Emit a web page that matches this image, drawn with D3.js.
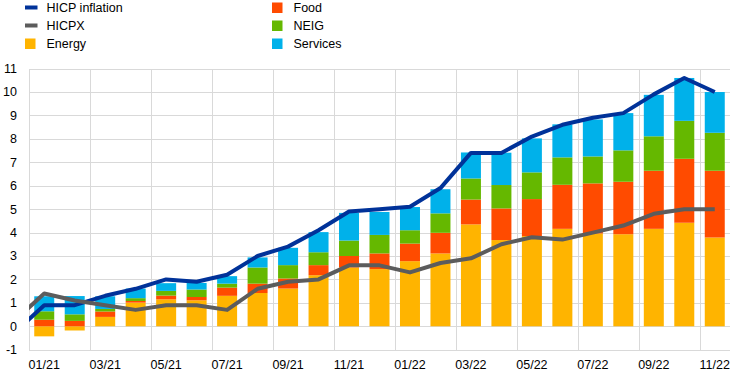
<!DOCTYPE html>
<html><head><meta charset="utf-8">
<script src="https://cdn.jsdelivr.net/npm/d3@7"></script>
<style>
html,body{margin:0;padding:0;background:#fff;}
svg{display:block;font-family:"Liberation Sans",Arial,sans-serif;}
</style></head>
<body>
<svg id="chart" width="743" height="381"></svg>
<script>
const months = ["01/21","02/21","03/21","04/21","05/21","06/21","07/21","08/21","09/21","10/21","11/21","12/21",
                "01/22","02/22","03/22","04/22","05/22","06/22","07/22","08/22","09/22","10/22","11/22"];
const energy   = [-0.43,-0.18,0.40,1.01,1.15,1.11,1.30,1.42,1.61,2.18,2.51,2.44,2.78,3.11,4.35,3.68,3.85,4.16,3.96,3.93,4.16,4.42,3.79];
const food     = [0.28,0.23,0.23,0.07,0.16,0.14,0.35,0.40,0.43,0.43,0.49,0.67,0.75,0.88,1.06,1.35,1.58,1.88,2.14,2.24,2.48,2.73,2.85];
const neig     = [0.36,0.28,0.11,0.12,0.20,0.32,0.17,0.69,0.57,0.55,0.66,0.79,0.57,0.83,0.90,1.00,1.14,1.17,1.15,1.34,1.47,1.62,1.62];
const services = [0.64,0.78,0.54,0.41,0.33,0.28,0.32,0.43,0.74,0.86,1.18,0.98,0.99,1.03,1.11,1.38,1.45,1.41,1.58,1.59,1.77,1.83,1.74];
// line series include the preceding month (12/20), clipped at the plot edge
const lineMonths = ["12/20"].concat(months);
const hicp  = [-0.3,0.9,0.9,1.3,1.6,2.0,1.9,2.2,3.0,3.4,4.1,4.9,5.0,5.1,5.9,7.4,7.4,8.1,8.6,8.9,9.1,9.9,10.6,10.0];
const hicpx = [0.2,1.4,1.1,0.9,0.7,0.9,0.9,0.7,1.6,1.9,2.0,2.6,2.6,2.3,2.7,2.9,3.5,3.8,3.7,4.0,4.3,4.8,5.0,5.0];
const yTicks = [-1,0,1,2,3,4,5,6,7,8,9,10,11];
const xTickLabels = months.filter((m,i)=>i%2===0);

const seriesKeys = ["Energy","Food","NEIG","Services"];
const colors = {"Energy":"#FFB400","Food":"#FF4B00","NEIG":"#65B800","Services":"#00B1EA",
                "HICP inflation":"#003299","HICPX":"#5C5C5C"};

const svg = d3.select("#chart");
const L = 29, R = 730, T = 68.6, B = 349.7;

const x = d3.scaleBand().domain(months).range([L,R]).paddingInner(0.344).paddingOuter(0.172);
const xl = d3.scaleLinear().domain([-0.5, months.length-0.5]).range([L,R]);
const y = d3.scaleLinear().domain([-1,11]).range([B,T]);

// gridlines
const grid = svg.append("g");
grid.selectAll("line.h").data(yTicks).join("line")
  .attr("x1",L).attr("x2",R)
  .attr("y1",d=>Math.round(y(d))+0.5).attr("y2",d=>Math.round(y(d))+0.5)
  .attr("stroke","#D9D9D9").attr("stroke-width",1);
const vIdx = d3.range(0, months.length, 2);
grid.selectAll("line.v").data(vIdx).join("line")
  .attr("x1",d=>Math.round(xl(d-0.5))+0.5).attr("x2",d=>Math.round(xl(d-0.5))+0.5)
  .attr("y1",Math.round(y(11))).attr("y2",Math.round(y(-1))+1)
  .attr("stroke","#D9D9D9").attr("stroke-width",1);

// stacked bars
const table = months.map((m,i)=>({month:m,Energy:energy[i],Food:food[i],NEIG:neig[i],Services:services[i]}));
const stacked = d3.stack().keys(seriesKeys).offset(d3.stackOffsetDiverging)(table);
svg.append("g").selectAll("g").data(stacked).join("g")
  .attr("fill",d=>colors[d.key])
  .selectAll("rect").data(d=>d).join("rect")
  .attr("x",d=>x(d.data.month))
  .attr("width",x.bandwidth())
  .attr("y",d=>y(Math.max(d[0],d[1])))
  .attr("height",d=>Math.abs(y(d[0])-y(d[1])));

// lines
svg.append("defs").append("clipPath").attr("id","plotclip")
  .append("rect").attr("x",L).attr("y",0).attr("width",R-L).attr("height",381);
const line = d3.line().x((d,i)=>xl(i-1)).y(d=>y(d));
const lg = svg.append("g").attr("clip-path","url(#plotclip)");
lg.append("path").datum(hicp).attr("d",line).attr("fill","none")
  .attr("stroke",colors["HICP inflation"]).attr("stroke-width",4).attr("stroke-linejoin","round");
lg.append("path").datum(hicpx).attr("d",line).attr("fill","none")
  .attr("stroke",colors["HICPX"]).attr("stroke-width",4).attr("stroke-linejoin","round");

// y axis labels
svg.append("g").selectAll("text").data(yTicks).join("text")
  .attr("x",17).attr("y",d=>y(d)).attr("dy","0.35em")
  .attr("text-anchor","end").attr("font-size",12.5).attr("fill","#000")
  .text(d=>d);

// x axis labels
svg.append("g").selectAll("text").data(xTickLabels).join("text")
  .attr("x",d=>x(d)+x.bandwidth()/2).attr("y",365).attr("dy","0.35em")
  .attr("text-anchor","middle").attr("font-size",12.5).attr("fill","#000")
  .text(d=>d);

// legend
const legendItems = [
  {name:"HICP inflation",type:"line",col:0,row:0},
  {name:"HICPX",type:"line",col:0,row:1},
  {name:"Energy",type:"rect",col:0,row:2},
  {name:"Food",type:"rect",col:1,row:0},
  {name:"NEIG",type:"rect",col:1,row:1},
  {name:"Services",type:"rect",col:1,row:2}
];
const colX = [25, 272], rowY = [7.5, 25.5, 43.5];
const lgd = svg.append("g");
legendItems.forEach(it=>{
  const gx = colX[it.col], gy = rowY[it.row];
  if(it.type==="line"){
    lgd.append("rect").attr("x",gx).attr("y",gy-2).attr("width",12.5).attr("height",4).attr("fill",colors[it.name]);
  } else {
    lgd.append("rect").attr("x",gx).attr("y",gy-5).attr("width",10.5).attr("height",10.5).attr("fill",colors[it.name]);
  }
  lgd.append("text").attr("x",gx+21.5).attr("y",gy).attr("dy","0.35em")
    .attr("font-size",12.5).attr("fill","#000").text(it.name);
});
</script>
</body></html>
